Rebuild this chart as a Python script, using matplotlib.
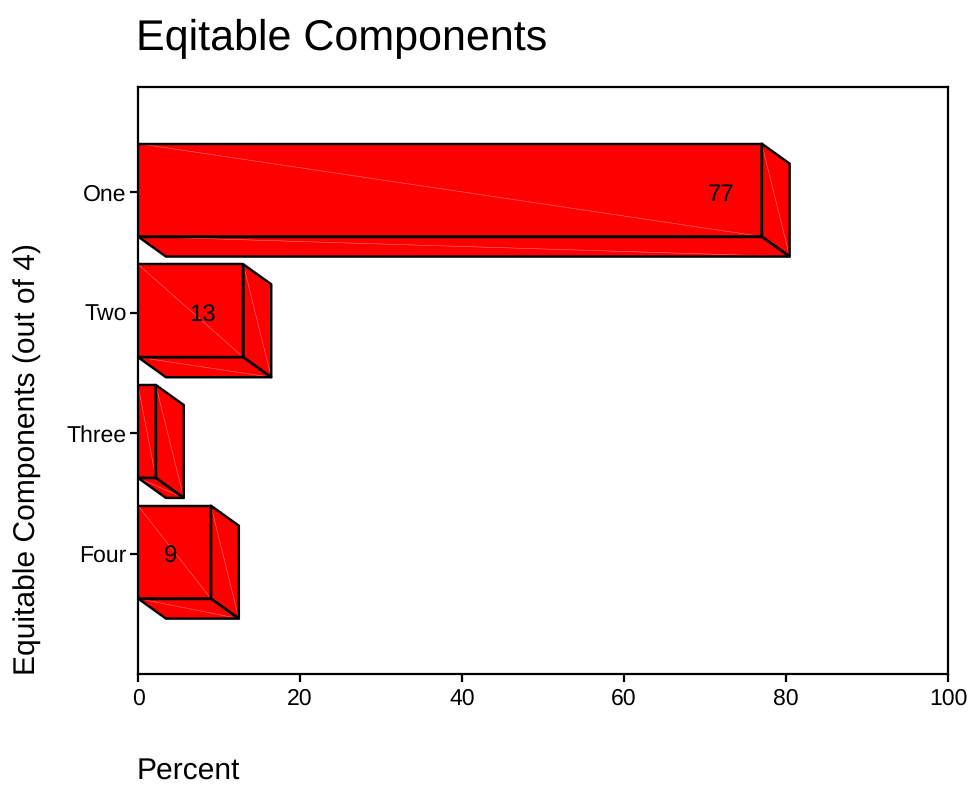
import matplotlib
matplotlib.use("Agg")
import matplotlib.pyplot as plt
from matplotlib.patches import Polygon

plt.rcParams['font.family'] = ['Liberation Sans', 'DejaVu Sans']
plt.rcParams['text.hinting'] = 'no_hinting'
plt.rcParams['text.hinting_factor'] = 1

# Data
categories = ["One", "Two", "Three", "Four"]
percent = [77, 13, 2.2, 9]
bar_labels = ["77", "13", "", "9"]
x_ticks = [0, 20, 40, 60, 80, 100]

# 3D look of the bars, in data units
DEPTH_X = 3.45
DEPTH_Y = 0.166
BAR_H = 0.77
BAR_SHIFT = 0.016
RED = "#ff0000"
SEAM = "#ff8a8a"
EDGE = "black"


def face(ax, corners):
    # two triangles leave a thin seam along the diagonal of every face
    a, b, c, d = corners
    ax.add_patch(Polygon(corners, closed=True, facecolor=RED, edgecolor="none", zorder=3))
    ax.plot([a[0], c[0]], [a[1], c[1]], color=SEAM, lw=0.35, zorder=3.1)
    ax.add_patch(Polygon(corners, closed=True, facecolor="none", edgecolor=EDGE,
                         lw=1.75, joinstyle="round", zorder=3.2))


def bar_3d(ax, pos, value):
    top = pos - BAR_H / 2 - BAR_SHIFT
    bot = pos + BAR_H / 2 - BAR_SHIFT
    # front
    face(ax, [(0, top), (value, top), (value, bot), (0, bot)])
    # right side
    face(ax, [(value, top), (value + DEPTH_X, top + DEPTH_Y),
              (value + DEPTH_X, bot + DEPTH_Y), (value, bot)])
    # underside
    face(ax, [(0, bot), (value, bot), (value + DEPTH_X, bot + DEPTH_Y),
              (DEPTH_X, bot + DEPTH_Y)])


fig = plt.figure(figsize=(9.7, 7.85), dpi=100)
ax = fig.add_axes([138 / 970, 1 - 674 / 785, 810 / 970, 587 / 785])

positions = list(range(1, len(categories) + 1))
for pos, val in zip(positions, percent):
    bar_3d(ax, pos, val)
for pos, val, lab in zip(positions, percent, bar_labels):
    if lab:
        ax.text(val - 5, pos, lab, ha="center", va="center_baseline", fontsize=17, color="black", zorder=4)

ax.set_xlim(0, 100)
ax.set_ylim(4.994, 0.13)
ax.set_xticks(x_ticks)
ax.set_yticks(positions)
ax.set_yticklabels(categories)
ax.tick_params(axis="both", direction="out", length=5.5, width=1.6, labelsize=16.8, pad=2.5)
ax.tick_params(axis="x", pad=4.5)
for s in ax.spines.values():
    s.set_linewidth(1.6)

# title and axis labels are left aligned with the frame
fig.text(136 / 970, 1 - 50 / 785, "Eqitable Components", fontsize=31.3, ha="left", va="baseline")
fig.text(136.5 / 970, 1 - 778.5 / 785, "Percent", fontsize=21.95, ha="left", va="baseline")
fig.text(35 / 970, 1 - 675 / 785, "Equitable Components (out of 4)", fontsize=21.95,
         rotation=90, ha="left", va="baseline", rotation_mode="anchor")

fig.savefig("out.png", dpi=100)
